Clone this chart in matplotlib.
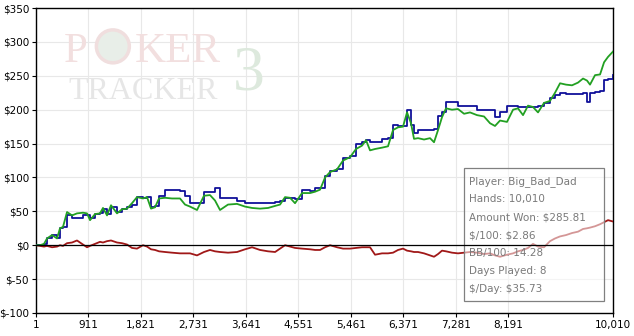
import matplotlib.pyplot as plt
from matplotlib.patches import Rectangle, Ellipse

# hand number (x) and running totals in dollars
hands = [1, 70, 140, 192, 279, 366, 417, 469, 539, 626, 712, 816, 886, 938, 1025, 1111,
         1163, 1233, 1302, 1406, 1493, 1580, 1666, 1753, 1857, 1927, 1996, 2065, 2135,
         2239, 2360, 2499, 2586, 2673, 2794, 2915, 3019, 3106, 3193, 3332, 3488, 3627,
         3749, 3887, 4026, 4148, 4234, 4321, 4408, 4494, 4616, 4755, 4842, 4928, 5015,
         5102, 5223, 5327, 5449, 5552, 5656, 5726, 5795, 5882, 6003, 6107, 6194, 6281,
         6367, 6437, 6506, 6558, 6628, 6732, 6836, 6905, 6975, 7044, 7113, 7217, 7321,
         7426, 7530, 7651, 7773, 7877, 7963, 8050, 8171, 8276, 8362, 8449, 8536, 8622,
         8709, 8813, 8917, 9004, 9091, 9195, 9299, 9403, 9490, 9559, 9611, 9698, 9785,
         9855, 9924, 10010]

won = [0, 0, 2, 10, 15, 10, 25, 27, 49, 44, 47, 48, 47, 37, 46, 47, 55, 44, 59, 47,
       53, 54, 62, 71, 69, 71, 54, 56, 69, 70, 69, 69, 60, 57, 52, 73, 74, 66, 52, 60,
       61, 57, 55, 54, 55, 58, 60, 71, 70, 62, 77, 77, 79, 82, 100, 108, 112, 125, 130,
       142, 147, 155, 140, 142, 144, 146, 170, 174, 175, 196, 180, 157, 158, 156, 158,
       152, 170, 189, 202, 200, 201, 194, 196, 192, 190, 180, 176, 184, 182, 200, 202,
       192, 206, 204, 196, 210, 213, 225, 239, 237, 236, 240, 246, 243, 237, 251, 252,
       270, 278, 285.81]

ev = [0, 0, 2, 10, 15, 10, 25, 27, 45, 40, 40, 44, 45, 40, 46, 47, 54, 46, 57, 49,
      53, 56, 60, 71, 69, 71, 57, 58, 72, 81, 81, 80, 72, 63, 63, 78, 78, 84, 69, 69,
      66, 63, 62, 62, 63, 64, 66, 70, 70, 68, 81, 80, 84, 85, 102, 110, 112, 128, 131,
      150, 153, 155, 153, 152, 157, 158, 177, 176, 176, 200, 178, 166, 170, 170, 170,
      172, 190, 196, 211, 211, 206, 206, 206, 200, 200, 199, 189, 196, 205, 206, 204,
      204, 204, 204, 206, 210, 218, 222, 224, 223, 223, 223, 224, 211, 224, 226, 228,
      244, 245, 251]

nonsd = [0, -1, -2, -1, -3, -2, 0, -1, 3, 4, 7, 1, -3, -1, 2, 5, 4, 6, 7, 4, 3, 1,
         -4, -5, 0, -2, -6, -7, -9, -10, -11, -12, -12, -12, -15, -10, -7, -9, -10, -11,
         -10, -6, -3, -7, -9, -10, -5, 0, -2, -4, -5, -6, -7, -7, -3, 0, -3, -5, -5, -4,
         -3, -3, -3, -14, -12, -12, -11, -7, -5, -8, -9, -10, -10, -12, -15, -17, -13,
         -8, -9, -11, -12, -11, -10, -11, -13, -12, -15, -17, -14, -12, -9, -7, -4, 2,
         -2, -3, 6, 10, 13, 15, 18, 20, 24, 25, 26, 28, 31, 34, 37, 35]

xticks = [1, 911, 1821, 2731, 3641, 4551, 5461, 6371, 7281, 8191, 10010]
yticks = [-100, -50, 0, 50, 100, 150, 200, 250, 300, 350]

stats = ["Player: Big_Bad_Dad", "Hands: 10,010", "Amount Won: \\$285.81", "\\$/100: \\$2.86",
         "BB/100: 14.28", "Days Played: 8", "\\$/Day: \\$35.73"]

fig = plt.figure(figsize=(6.34, 3.36), dpi=100)
ax = fig.add_axes([0.0568, 0.0685, 0.9101, 0.9075])

ax.plot(hands, nonsd, color='#a01818', lw=1.3, zorder=3)
ax.plot(hands, ev, color='#10109a', lw=1.3, drawstyle='steps-post', zorder=3)
ax.plot(hands, won, color='#22a022', lw=1.3, zorder=4)

ax.set_xlim(1, 10010)
ax.set_ylim(-100, 350)
ax.set_xticks(xticks)
ax.set_xticklabels([f"{t:,}" for t in xticks])
ax.set_yticks(yticks)
ax.set_yticklabels([f"${t}" for t in yticks])
ax.tick_params(labelsize=7.5, length=3, width=0.8, colors='black', pad=2)
ax.grid(True, color='#e8e8e8', lw=0.8)
ax.set_axisbelow(True)
for s in ax.spines.values():
    s.set_linewidth(1.0)

# stats box over the lines, semi transparent
ax.add_patch(Rectangle((0.742, 0.039), 0.242, 0.436, transform=ax.transAxes,
                       facecolor='white', alpha=0.55, edgecolor='none', zorder=5))
ax.add_patch(Rectangle((0.742, 0.039), 0.242, 0.436, transform=ax.transAxes,
                       facecolor='none', edgecolor='#808080', lw=0.9, zorder=6))
ax.axhline(0, color='black', lw=0.9, zorder=7)
for i, s in enumerate(stats):
    ax.text(0.751, 0.432 - i * 0.059, s, transform=ax.transAxes, fontsize=7.5,
            color='#7a7a7a', va='center', ha='left', zorder=8)

# watermark
fig.text(0.100, 0.815, "P", fontsize=31, family='Liberation Serif', color='#f2dfdf', zorder=0)
fig.patches.append(Ellipse((0.178, 0.862), 0.052, 0.052 * 634 / 336, transform=fig.transFigure,
                           facecolor='#e8eee8', edgecolor='#f0dede', lw=2.5, zorder=0))
fig.text(0.213, 0.815, "KER", fontsize=31, family='Liberation Serif', color='#f2dfdf', zorder=0)
fig.text(0.368, 0.735, "3", fontsize=46, family='Liberation Serif', color='#dde9dd', zorder=0)
fig.text(0.108, 0.705, "TRACKER", fontsize=23, family='Liberation Serif', color='#e6e6e6', zorder=0)

fig.savefig("out.png", dpi=100)
